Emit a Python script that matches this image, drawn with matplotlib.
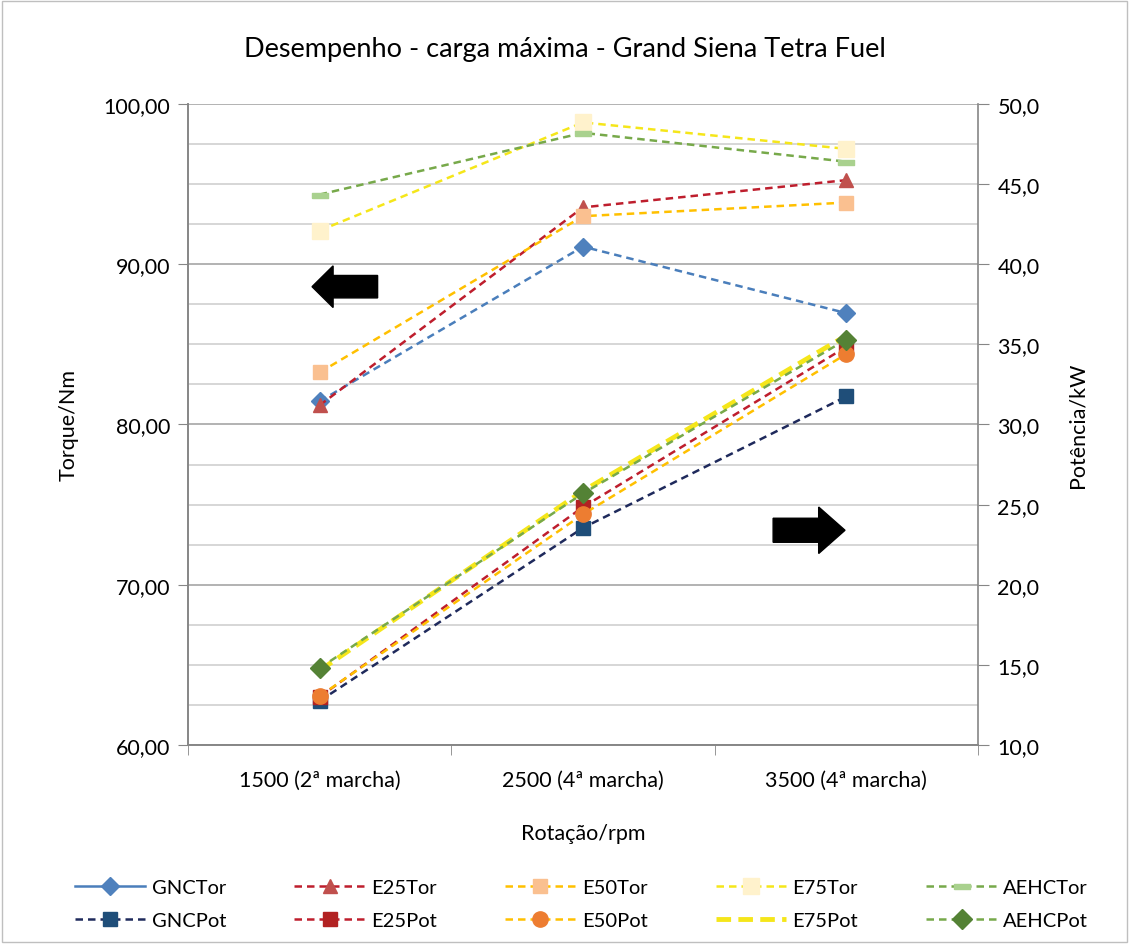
import matplotlib.pyplot as plt
import numpy as np
from matplotlib.lines import Line2D
from matplotlib.patches import FancyArrow, Rectangle
from matplotlib.ticker import FuncFormatter, MultipleLocator, FixedLocator

plt.rcParams['font.family'] = ['Lato', 'DejaVu Sans']

# data
categories = ['1500 (2ª marcha)', '2500 (4ª marcha)', '3500 (4ª marcha)']

gnc_tor = [81.45, 91.1, 86.95]
e25_tor = [81.2, 93.55, 95.25]
e50_tor = [83.25, 93.0, 93.85]
e75_tor = [92.1, 98.85, 97.2]
aehc_tor = [94.35, 98.2, 96.4]

gnc_pot = [12.75, 23.55, 31.75]
e25_pot = [13.0, 24.85, 34.85]
e50_pot = [13.05, 24.4, 34.4]
e75_pot = [14.65, 25.85, 35.55]
aehc_pot = [14.8, 25.7, 35.3]

x = np.arange(len(categories))

fig = plt.figure(figsize=(11.29, 9.45), dpi=100)
ax = fig.add_axes([188/1129, 1-746/945, (978-188)/1129, (746-105)/945])
ax2 = ax.twinx()

# torque series (left axis)
tor_styles = [
    (gnc_tor, 'GNCTor', '#4A7EBB', 'D', '#4F81BD', 9),
    (e25_tor, 'E25Tor', '#BE1E2D', '^', '#C0504D', 10),
    (e50_tor, 'E50Tor', '#FFC000', 's', '#FAC090', 10),
    (e75_tor, 'E75Tor', '#F5E61A', 's', '#FFF2CC', 11),
]
for vals, lab, lc, mk, mc, ms in tor_styles:
    ax.plot(x, vals, color=lc, lw=1.8, ls=(0, (3, 2)), marker=mk, ms=ms,
            mfc=mc, mec=mc, label=lab)
bar_marker = [(-1, -0.3), (1, -0.3), (1, 0.3), (-1, 0.3), (-1, -0.3)]
ax.plot(x, aehc_tor, color='#77A94A', lw=1.8, ls=(0, (3, 2)), marker=bar_marker,
        ms=12, mfc='#A9D18E', mec='#A9D18E', label='AEHCTor')

# power series (right axis)
ax2.plot(x, gnc_pot, color='#1F2A5C', lw=1.8, ls=(0, (3, 2)), marker='s', ms=10,
         mfc='#1F4E79', mec='#1F4E79', label='GNCPot')
ax2.plot(x, e25_pot, color='#BE1E2D', lw=1.8, ls=(0, (3, 2)), marker='s', ms=10,
         mfc='#B22222', mec='#B22222', label='E25Pot')
ax2.plot(x, e50_pot, color='#FFC000', lw=1.8, ls=(0, (3, 2)), marker='o', ms=11,
         mfc='#ED7D31', mec='#ED7D31', label='E50Pot')
ax2.plot(x, e75_pot, color='#F5E61A', lw=3.5, ls=(0, (3, 1.5)), label='E75Pot')
ax2.plot(x, aehc_pot, color='#77A94A', lw=1.8, ls=(0, (3, 2)), marker='D', ms=10,
         mfc='#548235', mec='#548235', label='AEHCPot')

# axes setup
ax.set_xlim(-0.5, 2.5)
ax.set_ylim(60, 100)
ax2.set_ylim(10, 50)
ax.set_xticks(x)
ax.set_xticklabels(categories, fontsize=15.5)
ax.xaxis.set_minor_locator(FixedLocator([-0.5, 0.5, 1.5, 2.5]))
ax.tick_params(axis='x', which='major', length=0, pad=18)
ax.tick_params(axis='x', which='minor', length=7, color='#868686')
ax.yaxis.set_major_locator(MultipleLocator(10))
ax.yaxis.set_minor_locator(MultipleLocator(2.5))
ax.yaxis.set_major_formatter(FuncFormatter(lambda v, p: f'{v:.2f}'.replace('.', ',')))
ax.tick_params(axis='y', which='major', length=7, color='#868686', labelsize=15.5, pad=6)
ax.tick_params(axis='y', which='minor', length=0)
ax2.yaxis.set_major_locator(MultipleLocator(5))
ax2.yaxis.set_major_formatter(FuncFormatter(lambda v, p: f'{v:.1f}'.replace('.', ',')))
ax2.tick_params(axis='y', length=8, color='#868686', labelsize=15.5, pad=6)

ax.grid(True, which='major', axis='y', color='#A6A6A6', lw=1.2)
ax.grid(True, which='minor', axis='y', color='#D0D0D0', lw=1.2)
ax.set_axisbelow(True)

for a in (ax, ax2):
    a.spines['top'].set_visible(False)
    for s in ('left', 'right', 'bottom'):
        a.spines[s].set_color('#868686')
        a.spines[s].set_linewidth(1.2)
ax.spines['right'].set_visible(False)

ax.set_ylabel('Torque/Nm', fontsize=15.5, labelpad=18)
ax2.set_ylabel('Potência/kW', fontsize=15.5, labelpad=20)
ax.set_xlabel('Rotação/rpm', fontsize=15.5, labelpad=24)
fig.text(0.5, 1-50/945, 'Desempenho - carga máxima - Grand Siena Tetra Fuel',
         ha='center', va='center', fontsize=19.5)

# black block arrows
ax2.add_patch(FancyArrow(0.22, 38.6, -0.249, 0, width=1.4, head_width=2.6,
                         head_length=0.08, length_includes_head=True,
                         color='black', zorder=5))
ax2.add_patch(FancyArrow(1.722, 23.4, 0.273, 0, width=1.5, head_width=2.9,
                         head_length=0.1, length_includes_head=True,
                         color='black', zorder=5))

# legend (GNCTor shown with a solid line, as in the original)
h1, l1 = ax.get_legend_handles_labels()
h2, l2 = ax2.get_legend_handles_labels()
h1[0] = Line2D([], [], color='#4A7EBB', lw=1.8, marker='D', ms=9,
               mfc='#4F81BD', mec='#4F81BD')
handles, labels = [], []
for a, b, la, lb in zip(h1, h2, l1, l2):
    handles += [a, b]
    labels += [la, lb]
fig.legend(handles, labels, loc='center', bbox_to_anchor=(0.515, 1-905/945),
           ncol=5, frameon=False, fontsize=14.5, handlelength=3.5,
           handletextpad=0.3, columnspacing=3.4, labelspacing=0.75)

fig.add_artist(Rectangle((0.002, 0.002), 0.996, 0.996, transform=fig.transFigure,
                         fill=False, edgecolor='#BFBFBF', lw=1))

fig.savefig('out.png', dpi=100)
